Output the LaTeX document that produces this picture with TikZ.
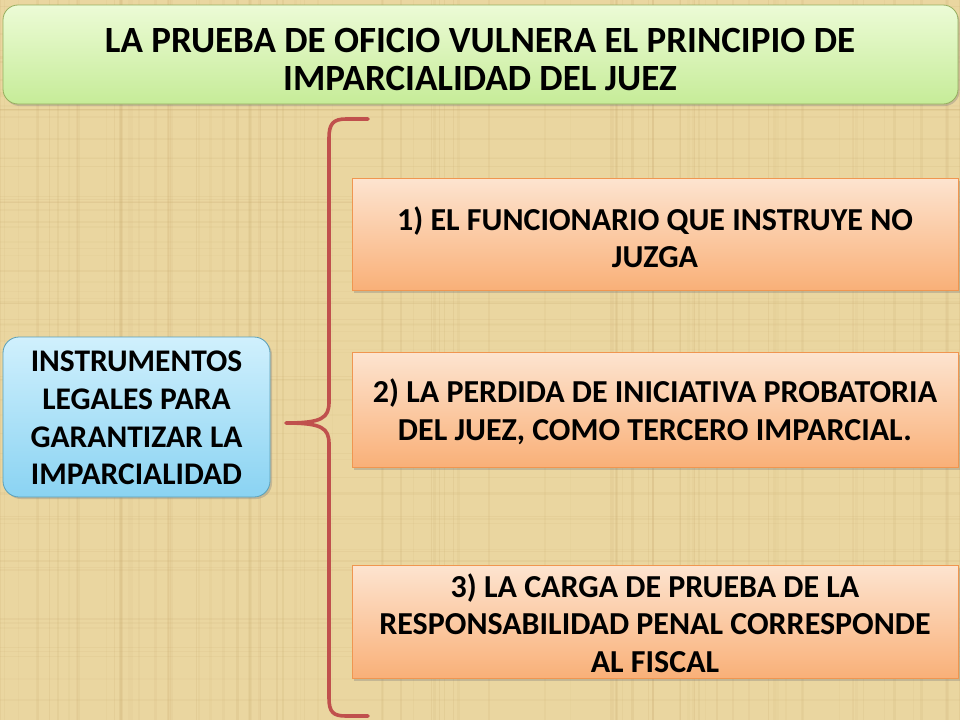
\documentclass[tikz,border=0pt]{standalone}
\usepackage{fontspec}
\setmainfont{Carlito}
\usetikzlibrary{shadows}
\definecolor{papyrus}{RGB}{234,214,160}
\definecolor{fibre}{RGB}{200,170,110}
\definecolor{bracered}{RGB}{192,80,77}
\definecolor{greentop}{RGB}{236,251,214}
\definecolor{greenbot}{RGB}{198,236,152}
\definecolor{greenline}{RGB}{150,175,95}
\definecolor{bluetop}{RGB}{208,240,253}
\definecolor{bluebot}{RGB}{138,211,242}
\definecolor{blueline}{RGB}{90,160,185}
\definecolor{orangetop}{RGB}{253,228,208}
\definecolor{orangebot}{RGB}{249,176,120}
\definecolor{orangeline}{RGB}{240,150,80}
\tikzset{
  x=1pt, y=-1pt,
  titlebox/.style={rounded corners=15pt, draw=greenline, line width=0.8pt,
    top color=greentop, bottom color=greenbot,
    drop shadow={opacity=0.35, shadow xshift=1.5pt, shadow yshift=-2pt}},
  leftbox/.style={rounded corners=16pt, draw=blueline, line width=0.8pt,
    top color=bluetop, bottom color=bluebot,
    drop shadow={opacity=0.35, shadow xshift=2pt, shadow yshift=-2pt}},
  itembox/.style={draw=orangeline, line width=0.8pt,
    top color=orangetop, bottom color=orangebot,
    drop shadow={opacity=0.35, shadow xshift=2pt, shadow yshift=-2.5pt}},
  titletext/.style={align=center, font=\fontsize{37}{38}\selectfont\bfseries},
  itemtext/.style={align=center, font=\fontsize{32}{37.5}\selectfont\bfseries},
  lefttext/.style={align=center, font=\fontsize{31.5}{37.7}\selectfont\bfseries},
  bracestyle/.style={draw=bracered, line width=3.6pt, line cap=round, line join=round}
}
\begin{document}
\begin{tikzpicture}
\fill[papyrus] (0,0) rectangle (960,720);
\useasboundingbox (0,0) rectangle (960,720);
% faint papyrus fibres
\pgfmathsetseed{7}
\foreach \i in {1,...,90}{
  \pgfmathsetmacro{\xx}{rnd*960}
  \pgfmathsetmacro{\ww}{0.6+rnd*2.5}
  \pgfmathsetmacro{\oo}{0.06+rnd*0.14}
  \fill[fibre, opacity=\oo] (\xx,0) rectangle (\xx+\ww,720);
}
\foreach \i in {1,...,70}{
  \pgfmathsetmacro{\yy}{rnd*720}
  \pgfmathsetmacro{\ww}{0.6+rnd*2}
  \pgfmathsetmacro{\oo}{0.05+rnd*0.10}
  \fill[fibre, opacity=\oo] (0,\yy) rectangle (960,\yy+\ww);
}

% title
\path[titlebox] (3,5) rectangle (958,104);
\node[titletext] (title) at (480,60) {LA PRUEBA DE OFICIO VULNERA EL PRINCIPIO DE\\IMPARCIALIDAD DEL JUEZ};

% left box
\path[leftbox] (3,337) rectangle (270,497);
\node[lefttext] (left) at (136.5,418) {INSTRUMENTOS\\LEGALES PARA\\GARANTIZAR LA\\IMPARCIALIDAD};

% item boxes
\path[itembox] (352,178) rectangle (958,290);
\node[itemtext] (one) at (655,237) {1) EL FUNCIONARIO QUE INSTRUYE NO\\JUZGA};
\path[itembox] (352,352) rectangle (958,467);
\node[itemtext] (two) at (655,412) {2) LA PERDIDA DE INICIATIVA PROBATORIA\\DEL JUEZ, COMO TERCERO IMPARCIAL.};
\path[itembox] (352,565) rectangle (958,678);
\node[itemtext] (three) at (655,623) {3) LA CARGA DE PRUEBA DE LA\\RESPONSABILIDAD PENAL CORRESPONDE\\AL FISCAL};

% brace
\coordinate (btop) at (368,119);
\coordinate (btip) at (286,423);
\coordinate (bbot) at (368,716);
\draw[bracestyle] (btop) -- (346,119) .. controls (333,119) and (329,124) .. (329,138)
  -- (329,402) .. controls (329,418) and (322,423) .. (btip)
  .. controls (322,423) and (329,428) .. (329,444)
  -- (329,698) .. controls (329,712) and (333,716) .. (346,716) -- (bbot);
\end{tikzpicture}
\end{document}
